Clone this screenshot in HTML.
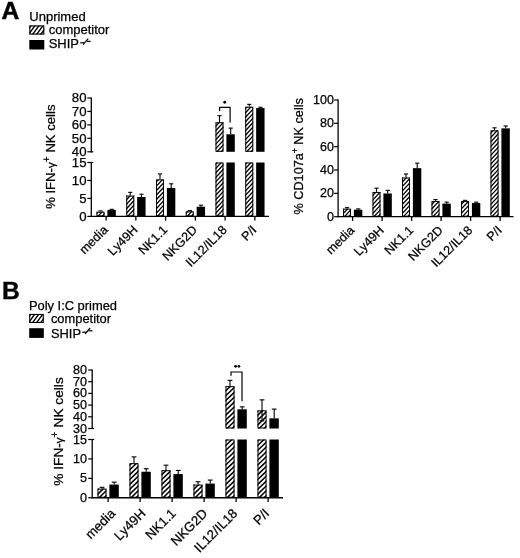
<!DOCTYPE html>
<html><head><meta charset="utf-8"><title>Figure</title>
<style>
html,body{margin:0;padding:0;background:#fff;}
body{width:520px;height:558px;overflow:hidden;}
svg{display:block;font-family:"Liberation Sans", sans-serif;fill:#000;}
text{stroke:#000;stroke-width:0.25px;font-kerning:none;}
</style></head><body>
<svg width="520" height="558" viewBox="0 0 520 558">
<defs>
<filter id="soft" x="0" y="0" width="100%" height="100%" filterUnits="userSpaceOnUse"><feGaussianBlur stdDeviation="0.45"/></filter>
</defs>
<g filter="url(#soft)"><rect x="-5" y="-5" width="530" height="568" fill="#fff"/>
<text x="0" y="0" font-size="23.4" font-weight="bold" style="stroke-width:0.5px" transform="translate(1.55 19.15) scale(1.055 1)">A</text>
<text x="29.3" y="20.6" font-size="13.0" text-anchor="start" font-weight="normal">Unprimed</text>
<clipPath id="c1"><rect x="29.3" y="25.4" width="15" height="9.2"/></clipPath>
<rect x="29.3" y="25.4" width="15" height="9.2" fill="#fff"/>
<path d="M28.3 12.62L45.3 -10.78M28.3 18.16L45.3 -5.24M28.3 23.71L45.3 0.31M28.3 29.25L45.3 5.86M28.3 34.8L45.3 11.4M28.3 40.35L45.3 16.95M28.3 45.89L45.3 22.49M28.3 51.44L45.3 28.04M28.3 56.99L45.3 33.59M28.3 62.53L45.3 39.13M28.3 68.08L45.3 44.68M28.3 73.62L45.3 50.23" stroke="#000" stroke-width="1.4" fill="none" clip-path="url(#c1)"/>
<rect x="29.85" y="25.95" width="13.9" height="8.1" fill="none" stroke="#000" stroke-width="1.1"/>
<rect x="29.3" y="40" width="15" height="9.5" fill="#000"/>
<text x="48.7" y="33.9" font-size="13.0" text-anchor="start" font-weight="normal">competitor</text>
<text x="48.7" y="48.2" font-size="13.0" text-anchor="start" font-weight="normal">SHIP</text>
<line x1="80.23" y1="42.8" x2="84.03" y2="42.8" stroke="#000" stroke-width="1.2"/>
<line x1="83.03" y1="44.6" x2="88.23" y2="38.6" stroke="#000" stroke-width="1.2"/>
<line x1="86.83" y1="41.4" x2="90.63" y2="41.4" stroke="#000" stroke-width="1.2"/>
<line x1="91.3" y1="97.4" x2="91.3" y2="152.4" stroke="#000" stroke-width="1.3"/>
<line x1="91.3" y1="161.9" x2="91.3" y2="217" stroke="#000" stroke-width="1.3"/>
<line x1="87.3" y1="98" x2="91.3" y2="98" stroke="#000" stroke-width="1.2"/>
<text x="86.5" y="102.28" font-size="13.2" text-anchor="end" font-weight="normal">80</text>
<line x1="87.3" y1="111.45" x2="91.3" y2="111.45" stroke="#000" stroke-width="1.2"/>
<text x="86.5" y="115.73" font-size="13.2" text-anchor="end" font-weight="normal">70</text>
<line x1="87.3" y1="124.9" x2="91.3" y2="124.9" stroke="#000" stroke-width="1.2"/>
<text x="86.5" y="129.18" font-size="13.2" text-anchor="end" font-weight="normal">60</text>
<line x1="87.3" y1="138.35" x2="91.3" y2="138.35" stroke="#000" stroke-width="1.2"/>
<text x="86.5" y="142.63" font-size="13.2" text-anchor="end" font-weight="normal">50</text>
<line x1="87.3" y1="151.8" x2="93.3" y2="151.8" stroke="#000" stroke-width="1.2"/>
<text x="86.5" y="156.08" font-size="13.2" text-anchor="end" font-weight="normal">40</text>
<line x1="87.3" y1="162.5" x2="93.3" y2="162.5" stroke="#000" stroke-width="1.2"/>
<text x="86.5" y="166.78" font-size="13.2" text-anchor="end" font-weight="normal">15</text>
<line x1="87.3" y1="180.47" x2="91.3" y2="180.47" stroke="#000" stroke-width="1.2"/>
<text x="86.5" y="184.74" font-size="13.2" text-anchor="end" font-weight="normal">10</text>
<line x1="87.3" y1="198.43" x2="91.3" y2="198.43" stroke="#000" stroke-width="1.2"/>
<text x="86.5" y="202.71" font-size="13.2" text-anchor="end" font-weight="normal">5</text>
<line x1="87.3" y1="216.4" x2="91.3" y2="216.4" stroke="#000" stroke-width="1.2"/>
<text x="86.5" y="220.68" font-size="13.2" text-anchor="end" font-weight="normal">0</text>
<text x="55" y="156.7" font-size="13.1" text-anchor="middle" transform="rotate(-90 55 156.7)">% IFN-<tspan font-size="11.5">&#947;</tspan><tspan font-size="10" dy="-5" dx="0">+</tspan><tspan dy="5" dx="0.3"> NK cells</tspan></text>
<line x1="100.5" y1="211.73" x2="100.5" y2="210.93" stroke="#000" stroke-width="1.1"/>
<line x1="98.4" y1="210.93" x2="102.6" y2="210.93" stroke="#000" stroke-width="1.1"/>
<line x1="111.7" y1="209.93" x2="111.7" y2="209.33" stroke="#000" stroke-width="1.1"/>
<line x1="109.6" y1="209.33" x2="113.8" y2="209.33" stroke="#000" stroke-width="1.1"/>
<clipPath id="c2"><rect x="96.5" y="211.73" width="8" height="4.67"/></clipPath>
<rect x="96.5" y="211.73" width="8" height="4.67" fill="#fff"/>
<path d="M95.5 201.08L105.5 190.36M95.5 205.56L105.5 194.83M95.5 210.03L105.5 199.3M95.5 214.5L105.5 203.78M95.5 218.97L105.5 208.25M95.5 223.44L105.5 212.72M95.5 227.92L105.5 217.19M95.5 232.39L105.5 221.67M95.5 236.86L105.5 226.14" stroke="#000" stroke-width="1.3" fill="none" clip-path="url(#c2)"/>
<rect x="97" y="212.23" width="7" height="3.67" fill="none" stroke="#000" stroke-width="1.0"/>
<rect x="107.4" y="209.93" width="8.4" height="6.47" fill="#000"/>
<line x1="130.25" y1="195.56" x2="130.25" y2="192.36" stroke="#000" stroke-width="1.1"/>
<line x1="128.15" y1="192.36" x2="132.35" y2="192.36" stroke="#000" stroke-width="1.1"/>
<line x1="141.45" y1="197" x2="141.45" y2="194.2" stroke="#000" stroke-width="1.1"/>
<line x1="139.35" y1="194.2" x2="143.55" y2="194.2" stroke="#000" stroke-width="1.1"/>
<clipPath id="c3"><rect x="126.25" y="195.56" width="8" height="20.84"/></clipPath>
<rect x="126.25" y="195.56" width="8" height="20.84" fill="#fff"/>
<path d="M125.25 187.67L135.25 176.94M125.25 192.14L135.25 181.42M125.25 196.61L135.25 185.89M125.25 201.08L135.25 190.36M125.25 205.56L135.25 194.83M125.25 210.03L135.25 199.3M125.25 214.5L135.25 203.78M125.25 218.97L135.25 208.25M125.25 223.44L135.25 212.72M125.25 227.92L135.25 217.19M125.25 232.39L135.25 221.67M125.25 236.86L135.25 226.14" stroke="#000" stroke-width="1.3" fill="none" clip-path="url(#c3)"/>
<rect x="126.75" y="196.06" width="7" height="19.84" fill="none" stroke="#000" stroke-width="1.0"/>
<rect x="137.15" y="197" width="8.4" height="19.4" fill="#000"/>
<line x1="160" y1="179.39" x2="160" y2="173.89" stroke="#000" stroke-width="1.1"/>
<line x1="157.9" y1="173.89" x2="162.1" y2="173.89" stroke="#000" stroke-width="1.1"/>
<line x1="171.2" y1="188.01" x2="171.2" y2="183.81" stroke="#000" stroke-width="1.1"/>
<line x1="169.1" y1="183.81" x2="173.3" y2="183.81" stroke="#000" stroke-width="1.1"/>
<clipPath id="c4"><rect x="156" y="179.39" width="8" height="37.01"/></clipPath>
<rect x="156" y="179.39" width="8" height="37.01" fill="#fff"/>
<path d="M155 169.78L165 159.06M155 174.25L165 163.53M155 178.72L165 168M155 183.2L165 172.47M155 187.67L165 176.94M155 192.14L165 181.42M155 196.61L165 185.89M155 201.08L165 190.36M155 205.56L165 194.83M155 210.03L165 199.3M155 214.5L165 203.78M155 218.97L165 208.25M155 223.44L165 212.72M155 227.92L165 217.19M155 232.39L165 221.67M155 236.86L165 226.14" stroke="#000" stroke-width="1.3" fill="none" clip-path="url(#c4)"/>
<rect x="156.5" y="179.89" width="7" height="36.01" fill="none" stroke="#000" stroke-width="1.0"/>
<rect x="166.9" y="188.01" width="8.4" height="28.39" fill="#000"/>
<line x1="189.75" y1="211.37" x2="189.75" y2="210.57" stroke="#000" stroke-width="1.1"/>
<line x1="187.65" y1="210.57" x2="191.85" y2="210.57" stroke="#000" stroke-width="1.1"/>
<line x1="200.95" y1="206.7" x2="200.95" y2="205.2" stroke="#000" stroke-width="1.1"/>
<line x1="198.85" y1="205.2" x2="203.05" y2="205.2" stroke="#000" stroke-width="1.1"/>
<clipPath id="c5"><rect x="185.75" y="211.37" width="8" height="5.03"/></clipPath>
<rect x="185.75" y="211.37" width="8" height="5.03" fill="#fff"/>
<path d="M184.75 201.08L194.75 190.36M184.75 205.56L194.75 194.83M184.75 210.03L194.75 199.3M184.75 214.5L194.75 203.78M184.75 218.97L194.75 208.25M184.75 223.44L194.75 212.72M184.75 227.92L194.75 217.19M184.75 232.39L194.75 221.67M184.75 236.86L194.75 226.14" stroke="#000" stroke-width="1.3" fill="none" clip-path="url(#c5)"/>
<rect x="186.25" y="211.87" width="7" height="4.03" fill="none" stroke="#000" stroke-width="1.0"/>
<rect x="196.65" y="206.7" width="8.4" height="9.7" fill="#000"/>
<line x1="219.5" y1="122.21" x2="219.5" y2="115.71" stroke="#000" stroke-width="1.1"/>
<line x1="217.4" y1="115.71" x2="221.6" y2="115.71" stroke="#000" stroke-width="1.1"/>
<line x1="230.7" y1="134.31" x2="230.7" y2="128.12" stroke="#000" stroke-width="1.1"/>
<line x1="228.6" y1="128.12" x2="232.8" y2="128.12" stroke="#000" stroke-width="1.1"/>
<clipPath id="c6"><rect x="215.5" y="122.21" width="8" height="29.59"/></clipPath>
<rect x="215.5" y="122.21" width="8" height="29.59" fill="#fff"/>
<path d="M214.5 114.12L224.5 103.4M214.5 118.6L224.5 107.87M214.5 123.07L224.5 112.34M214.5 127.54L224.5 116.82M214.5 132.01L224.5 121.29M214.5 136.48L224.5 125.76M214.5 140.96L224.5 130.23M214.5 145.43L224.5 134.7M214.5 149.9L224.5 139.18M214.5 154.37L224.5 143.65M214.5 158.84L224.5 148.12M214.5 163.32L224.5 152.59M214.5 167.79L224.5 157.07M214.5 172.26L224.5 161.54" stroke="#000" stroke-width="1.3" fill="none" clip-path="url(#c6)"/>
<rect x="216" y="122.71" width="7" height="28.59" fill="none" stroke="#000" stroke-width="1.0"/>
<rect x="226.4" y="134.31" width="8.4" height="17.49" fill="#000"/>
<clipPath id="c7"><rect x="215.5" y="162.5" width="8" height="53.9"/></clipPath>
<rect x="215.5" y="162.5" width="8" height="53.9" fill="#fff"/>
<path d="M214.5 151.89L224.5 141.17M214.5 156.36L224.5 145.64M214.5 160.83L224.5 150.11M214.5 165.31L224.5 154.58M214.5 169.78L224.5 159.06M214.5 174.25L224.5 163.53M214.5 178.72L224.5 168M214.5 183.2L224.5 172.47M214.5 187.67L224.5 176.94M214.5 192.14L224.5 181.42M214.5 196.61L224.5 185.89M214.5 201.08L224.5 190.36M214.5 205.56L224.5 194.83M214.5 210.03L224.5 199.3M214.5 214.5L224.5 203.78M214.5 218.97L224.5 208.25M214.5 223.44L224.5 212.72M214.5 227.92L224.5 217.19M214.5 232.39L224.5 221.67M214.5 236.86L224.5 226.14" stroke="#000" stroke-width="1.3" fill="none" clip-path="url(#c7)"/>
<rect x="216" y="163" width="7" height="52.9" fill="none" stroke="#000" stroke-width="1.0"/>
<rect x="226.4" y="162.5" width="8.4" height="53.9" fill="#000"/>
<line x1="249.25" y1="106.74" x2="249.25" y2="104.34" stroke="#000" stroke-width="1.1"/>
<line x1="247.15" y1="104.34" x2="251.35" y2="104.34" stroke="#000" stroke-width="1.1"/>
<line x1="260.45" y1="108.09" x2="260.45" y2="107.29" stroke="#000" stroke-width="1.1"/>
<line x1="258.35" y1="107.29" x2="262.55" y2="107.29" stroke="#000" stroke-width="1.1"/>
<clipPath id="c8"><rect x="245.25" y="106.74" width="8" height="45.06"/></clipPath>
<rect x="245.25" y="106.74" width="8" height="45.06" fill="#fff"/>
<path d="M244.25 96.23L254.25 85.51M244.25 100.71L254.25 89.98M244.25 105.18L254.25 94.46M244.25 109.65L254.25 98.93M244.25 114.12L254.25 103.4M244.25 118.6L254.25 107.87M244.25 123.07L254.25 112.34M244.25 127.54L254.25 116.82M244.25 132.01L254.25 121.29M244.25 136.48L254.25 125.76M244.25 140.96L254.25 130.23M244.25 145.43L254.25 134.7M244.25 149.9L254.25 139.18M244.25 154.37L254.25 143.65M244.25 158.84L254.25 148.12M244.25 163.32L254.25 152.59M244.25 167.79L254.25 157.07M244.25 172.26L254.25 161.54" stroke="#000" stroke-width="1.3" fill="none" clip-path="url(#c8)"/>
<rect x="245.75" y="107.24" width="7" height="44.06" fill="none" stroke="#000" stroke-width="1.0"/>
<rect x="256.15" y="108.09" width="8.4" height="43.71" fill="#000"/>
<clipPath id="c9"><rect x="245.25" y="162.5" width="8" height="53.9"/></clipPath>
<rect x="245.25" y="162.5" width="8" height="53.9" fill="#fff"/>
<path d="M244.25 151.89L254.25 141.17M244.25 156.36L254.25 145.64M244.25 160.83L254.25 150.11M244.25 165.31L254.25 154.58M244.25 169.78L254.25 159.06M244.25 174.25L254.25 163.53M244.25 178.72L254.25 168M244.25 183.2L254.25 172.47M244.25 187.67L254.25 176.94M244.25 192.14L254.25 181.42M244.25 196.61L254.25 185.89M244.25 201.08L254.25 190.36M244.25 205.56L254.25 194.83M244.25 210.03L254.25 199.3M244.25 214.5L254.25 203.78M244.25 218.97L254.25 208.25M244.25 223.44L254.25 212.72M244.25 227.92L254.25 217.19M244.25 232.39L254.25 221.67M244.25 236.86L254.25 226.14" stroke="#000" stroke-width="1.3" fill="none" clip-path="url(#c9)"/>
<rect x="245.75" y="163" width="7" height="52.9" fill="none" stroke="#000" stroke-width="1.0"/>
<rect x="256.15" y="162.5" width="8.4" height="53.9" fill="#000"/>
<line x1="90.7" y1="216.4" x2="269" y2="216.4" stroke="#000" stroke-width="1.3"/>
<line x1="106.1" y1="216.4" x2="106.1" y2="220.6" stroke="#000" stroke-width="1.3"/>
<text x="108.6" y="230.7" font-size="12.5" text-anchor="end" font-weight="normal" transform="rotate(-45 108.6 230.7)">media</text>
<line x1="135.85" y1="216.4" x2="135.85" y2="220.6" stroke="#000" stroke-width="1.3"/>
<text x="138.35" y="230.7" font-size="12.5" text-anchor="end" font-weight="normal" transform="rotate(-45 138.35 230.7)">Ly49H</text>
<line x1="165.6" y1="216.4" x2="165.6" y2="220.6" stroke="#000" stroke-width="1.3"/>
<text x="168.1" y="230.7" font-size="12.5" text-anchor="end" font-weight="normal" transform="rotate(-45 168.1 230.7)">NK1.1</text>
<line x1="195.35" y1="216.4" x2="195.35" y2="220.6" stroke="#000" stroke-width="1.3"/>
<text x="197.85" y="230.7" font-size="12.5" text-anchor="end" font-weight="normal" transform="rotate(-45 197.85 230.7)">NKG2D</text>
<line x1="225.1" y1="216.4" x2="225.1" y2="220.6" stroke="#000" stroke-width="1.3"/>
<text x="227.6" y="230.7" font-size="12.5" text-anchor="end" font-weight="normal" transform="rotate(-45 227.6 230.7)">IL12/IL18</text>
<line x1="254.85" y1="216.4" x2="254.85" y2="220.6" stroke="#000" stroke-width="1.3"/>
<text x="257.35" y="230.7" font-size="12.5" text-anchor="end" font-weight="normal" transform="rotate(-45 257.35 230.7)">P/I</text>
<polyline points="219.6,111.0 219.6,107.3 230.1,107.3 230.1,122.4" fill="none" stroke="#000" stroke-width="1.2"/>
<circle cx="224.75" cy="102.3" r="1.45" fill="#000"/>
<line x1="338.1" y1="99.4" x2="338.1" y2="217.3" stroke="#000" stroke-width="1.3"/>
<line x1="334.1" y1="100" x2="338.1" y2="100" stroke="#000" stroke-width="1.2"/>
<text x="333.9" y="104.02" font-size="12.5" text-anchor="end" font-weight="normal">100</text>
<line x1="334.1" y1="123.34" x2="338.1" y2="123.34" stroke="#000" stroke-width="1.2"/>
<text x="333.9" y="127.36" font-size="12.5" text-anchor="end" font-weight="normal">80</text>
<line x1="334.1" y1="146.68" x2="338.1" y2="146.68" stroke="#000" stroke-width="1.2"/>
<text x="333.9" y="150.71" font-size="12.5" text-anchor="end" font-weight="normal">60</text>
<line x1="334.1" y1="170.02" x2="338.1" y2="170.02" stroke="#000" stroke-width="1.2"/>
<text x="333.9" y="174.04" font-size="12.5" text-anchor="end" font-weight="normal">40</text>
<line x1="334.1" y1="193.36" x2="338.1" y2="193.36" stroke="#000" stroke-width="1.2"/>
<text x="333.9" y="197.38" font-size="12.5" text-anchor="end" font-weight="normal">20</text>
<line x1="334.1" y1="216.7" x2="338.1" y2="216.7" stroke="#000" stroke-width="1.2"/>
<text x="333.9" y="220.72" font-size="12.5" text-anchor="end" font-weight="normal">0</text>
<text x="302.8" y="156.3" font-size="12.7" text-anchor="middle" transform="rotate(-90 302.8 156.3)">% CD107a<tspan font-size="9" dy="-4.5" dx="0">+</tspan><tspan dy="4.5" dx="-0.3"> NK cells</tspan></text>
<line x1="347" y1="208.65" x2="347" y2="207.65" stroke="#000" stroke-width="1.1"/>
<line x1="344.9" y1="207.65" x2="349.1" y2="207.65" stroke="#000" stroke-width="1.1"/>
<line x1="358.2" y1="209.7" x2="358.2" y2="208.9" stroke="#000" stroke-width="1.1"/>
<line x1="356.1" y1="208.9" x2="360.3" y2="208.9" stroke="#000" stroke-width="1.1"/>
<clipPath id="c10"><rect x="343" y="208.65" width="8" height="8.05"/></clipPath>
<rect x="343" y="208.65" width="8" height="8.05" fill="#fff"/>
<path d="M342 196.91L352 186.19M342 201.38L352 190.66M342 205.86L352 195.13M342 210.33L352 199.6M342 214.8L352 204.08M342 219.27L352 208.55M342 223.74L352 213.02M342 228.22L352 217.49M342 232.69L352 221.97M342 237.16L352 226.44" stroke="#000" stroke-width="1.3" fill="none" clip-path="url(#c10)"/>
<rect x="343.5" y="209.15" width="7" height="7.05" fill="none" stroke="#000" stroke-width="1.0"/>
<rect x="353.9" y="209.7" width="8.4" height="7" fill="#000"/>
<line x1="376.5" y1="191.96" x2="376.5" y2="188.16" stroke="#000" stroke-width="1.1"/>
<line x1="374.4" y1="188.16" x2="378.6" y2="188.16" stroke="#000" stroke-width="1.1"/>
<line x1="387.7" y1="193.48" x2="387.7" y2="190.38" stroke="#000" stroke-width="1.1"/>
<line x1="385.6" y1="190.38" x2="389.8" y2="190.38" stroke="#000" stroke-width="1.1"/>
<clipPath id="c11"><rect x="372.5" y="191.96" width="8" height="24.74"/></clipPath>
<rect x="372.5" y="191.96" width="8" height="24.74" fill="#fff"/>
<path d="M371.5 183.5L381.5 172.77M371.5 187.97L381.5 177.24M371.5 192.44L381.5 181.72M371.5 196.91L381.5 186.19M371.5 201.38L381.5 190.66M371.5 205.86L381.5 195.13M371.5 210.33L381.5 199.6M371.5 214.8L381.5 204.08M371.5 219.27L381.5 208.55M371.5 223.74L381.5 213.02M371.5 228.22L381.5 217.49M371.5 232.69L381.5 221.97M371.5 237.16L381.5 226.44" stroke="#000" stroke-width="1.3" fill="none" clip-path="url(#c11)"/>
<rect x="373" y="192.46" width="7" height="23.74" fill="none" stroke="#000" stroke-width="1.0"/>
<rect x="383.4" y="193.48" width="8.4" height="23.22" fill="#000"/>
<line x1="406" y1="177.49" x2="406" y2="173.99" stroke="#000" stroke-width="1.1"/>
<line x1="403.9" y1="173.99" x2="408.1" y2="173.99" stroke="#000" stroke-width="1.1"/>
<line x1="417.2" y1="168.15" x2="417.2" y2="163.15" stroke="#000" stroke-width="1.1"/>
<line x1="415.1" y1="163.15" x2="419.3" y2="163.15" stroke="#000" stroke-width="1.1"/>
<clipPath id="c12"><rect x="402" y="177.49" width="8" height="39.21"/></clipPath>
<rect x="402" y="177.49" width="8" height="39.21" fill="#fff"/>
<path d="M401 165.61L411 154.88M401 170.08L411 159.36M401 174.55L411 163.83M401 179.02L411 168.3M401 183.5L411 172.77M401 187.97L411 177.24M401 192.44L411 181.72M401 196.91L411 186.19M401 201.38L411 190.66M401 205.86L411 195.13M401 210.33L411 199.6M401 214.8L411 204.08M401 219.27L411 208.55M401 223.74L411 213.02M401 228.22L411 217.49M401 232.69L411 221.97M401 237.16L411 226.44" stroke="#000" stroke-width="1.3" fill="none" clip-path="url(#c12)"/>
<rect x="402.5" y="177.99" width="7" height="38.21" fill="none" stroke="#000" stroke-width="1.0"/>
<rect x="412.9" y="168.15" width="8.4" height="48.55" fill="#000"/>
<line x1="435.5" y1="200.95" x2="435.5" y2="199.55" stroke="#000" stroke-width="1.1"/>
<line x1="433.4" y1="199.55" x2="437.6" y2="199.55" stroke="#000" stroke-width="1.1"/>
<line x1="446.7" y1="203.63" x2="446.7" y2="202.13" stroke="#000" stroke-width="1.1"/>
<line x1="444.6" y1="202.13" x2="448.8" y2="202.13" stroke="#000" stroke-width="1.1"/>
<clipPath id="c13"><rect x="431.5" y="200.95" width="8" height="15.75"/></clipPath>
<rect x="431.5" y="200.95" width="8" height="15.75" fill="#fff"/>
<path d="M430.5 192.44L440.5 181.72M430.5 196.91L440.5 186.19M430.5 201.38L440.5 190.66M430.5 205.86L440.5 195.13M430.5 210.33L440.5 199.6M430.5 214.8L440.5 204.08M430.5 219.27L440.5 208.55M430.5 223.74L440.5 213.02M430.5 228.22L440.5 217.49M430.5 232.69L440.5 221.97M430.5 237.16L440.5 226.44" stroke="#000" stroke-width="1.3" fill="none" clip-path="url(#c13)"/>
<rect x="432" y="201.45" width="7" height="14.75" fill="none" stroke="#000" stroke-width="1.0"/>
<rect x="442.4" y="203.63" width="8.4" height="13.07" fill="#000"/>
<line x1="465" y1="200.95" x2="465" y2="200.35" stroke="#000" stroke-width="1.1"/>
<line x1="462.9" y1="200.35" x2="467.1" y2="200.35" stroke="#000" stroke-width="1.1"/>
<line x1="476.2" y1="203.05" x2="476.2" y2="202.15" stroke="#000" stroke-width="1.1"/>
<line x1="474.1" y1="202.15" x2="478.3" y2="202.15" stroke="#000" stroke-width="1.1"/>
<clipPath id="c14"><rect x="461" y="200.95" width="8" height="15.75"/></clipPath>
<rect x="461" y="200.95" width="8" height="15.75" fill="#fff"/>
<path d="M460 192.44L470 181.72M460 196.91L470 186.19M460 201.38L470 190.66M460 205.86L470 195.13M460 210.33L470 199.6M460 214.8L470 204.08M460 219.27L470 208.55M460 223.74L470 213.02M460 228.22L470 217.49M460 232.69L470 221.97M460 237.16L470 226.44" stroke="#000" stroke-width="1.3" fill="none" clip-path="url(#c14)"/>
<rect x="461.5" y="201.45" width="7" height="14.75" fill="none" stroke="#000" stroke-width="1.0"/>
<rect x="471.9" y="203.05" width="8.4" height="13.65" fill="#000"/>
<line x1="494.5" y1="130.34" x2="494.5" y2="127.84" stroke="#000" stroke-width="1.1"/>
<line x1="492.4" y1="127.84" x2="496.6" y2="127.84" stroke="#000" stroke-width="1.1"/>
<line x1="505.7" y1="128.36" x2="505.7" y2="125.96" stroke="#000" stroke-width="1.1"/>
<line x1="503.6" y1="125.96" x2="507.8" y2="125.96" stroke="#000" stroke-width="1.1"/>
<clipPath id="c15"><rect x="490.5" y="130.34" width="8" height="86.36"/></clipPath>
<rect x="490.5" y="130.34" width="8" height="86.36" fill="#fff"/>
<path d="M489.5 120.89L499.5 110.16M489.5 125.36L499.5 114.63M489.5 129.83L499.5 119.11M489.5 134.3L499.5 123.58M489.5 138.77L499.5 128.05M489.5 143.25L499.5 132.52M489.5 147.72L499.5 136.99M489.5 152.19L499.5 141.47M489.5 156.66L499.5 145.94M489.5 161.13L499.5 150.41M489.5 165.61L499.5 154.88M489.5 170.08L499.5 159.36M489.5 174.55L499.5 163.83M489.5 179.02L499.5 168.3M489.5 183.5L499.5 172.77M489.5 187.97L499.5 177.24M489.5 192.44L499.5 181.72M489.5 196.91L499.5 186.19M489.5 201.38L499.5 190.66M489.5 205.86L499.5 195.13M489.5 210.33L499.5 199.6M489.5 214.8L499.5 204.08M489.5 219.27L499.5 208.55M489.5 223.74L499.5 213.02M489.5 228.22L499.5 217.49M489.5 232.69L499.5 221.97M489.5 237.16L499.5 226.44" stroke="#000" stroke-width="1.3" fill="none" clip-path="url(#c15)"/>
<rect x="491" y="130.84" width="7" height="85.36" fill="none" stroke="#000" stroke-width="1.0"/>
<rect x="501.4" y="128.36" width="8.4" height="88.34" fill="#000"/>
<line x1="337.5" y1="216.7" x2="513.5" y2="216.7" stroke="#000" stroke-width="1.3"/>
<line x1="352.6" y1="216.7" x2="352.6" y2="220.9" stroke="#000" stroke-width="1.3"/>
<text x="355.1" y="231" font-size="12.5" text-anchor="end" font-weight="normal" transform="rotate(-45 355.1 231)">media</text>
<line x1="382.1" y1="216.7" x2="382.1" y2="220.9" stroke="#000" stroke-width="1.3"/>
<text x="384.6" y="231" font-size="12.5" text-anchor="end" font-weight="normal" transform="rotate(-45 384.6 231)">Ly49H</text>
<line x1="411.6" y1="216.7" x2="411.6" y2="220.9" stroke="#000" stroke-width="1.3"/>
<text x="414.1" y="231" font-size="12.5" text-anchor="end" font-weight="normal" transform="rotate(-45 414.1 231)">NK1.1</text>
<line x1="441.1" y1="216.7" x2="441.1" y2="220.9" stroke="#000" stroke-width="1.3"/>
<text x="443.6" y="231" font-size="12.5" text-anchor="end" font-weight="normal" transform="rotate(-45 443.6 231)">NKG2D</text>
<line x1="470.6" y1="216.7" x2="470.6" y2="220.9" stroke="#000" stroke-width="1.3"/>
<text x="473.1" y="231" font-size="12.5" text-anchor="end" font-weight="normal" transform="rotate(-45 473.1 231)">IL12/IL18</text>
<line x1="500.1" y1="216.7" x2="500.1" y2="220.9" stroke="#000" stroke-width="1.3"/>
<text x="502.6" y="231" font-size="12.5" text-anchor="end" font-weight="normal" transform="rotate(-45 502.6 231)">P/I</text>
<text x="0" y="0" font-size="24.6" font-weight="bold" style="stroke-width:0.4px" transform="translate(2.0 299.35) scale(1.0 1)">B</text>
<text x="28.9" y="309.5" font-size="12.9" text-anchor="start" font-weight="normal">Poly I:C primed</text>
<clipPath id="c16"><rect x="29.2" y="313.9" width="14.6" height="9.1"/></clipPath>
<rect x="29.2" y="313.9" width="14.6" height="9.1" fill="#fff"/>
<path d="M28.2 301.02L44.8 278.17M28.2 306.56L44.8 283.71M28.2 312.11L44.8 289.26M28.2 317.65L44.8 294.81M28.2 323.2L44.8 300.35M28.2 328.75L44.8 305.9M28.2 334.29L44.8 311.44M28.2 339.84L44.8 316.99M28.2 345.39L44.8 322.54M28.2 350.93L44.8 328.08M28.2 356.48L44.8 333.63M28.2 362.02L44.8 339.18" stroke="#000" stroke-width="1.4" fill="none" clip-path="url(#c16)"/>
<rect x="29.75" y="314.45" width="13.5" height="8" fill="none" stroke="#000" stroke-width="1.1"/>
<rect x="29.2" y="328.2" width="14.6" height="9.7" fill="#000"/>
<text x="50.9" y="322.8" font-size="12.9" text-anchor="start" font-weight="normal">competitor</text>
<text x="50.9" y="337.6" font-size="12.9" text-anchor="start" font-weight="normal">SHIP</text>
<line x1="82.2" y1="332.2" x2="86" y2="332.2" stroke="#000" stroke-width="1.2"/>
<line x1="85" y1="334" x2="90.2" y2="328" stroke="#000" stroke-width="1.2"/>
<line x1="88.8" y1="330.8" x2="92.6" y2="330.8" stroke="#000" stroke-width="1.2"/>
<line x1="92.2" y1="369.4" x2="92.2" y2="429.1" stroke="#000" stroke-width="1.3"/>
<line x1="92.2" y1="438.9" x2="92.2" y2="498.35" stroke="#000" stroke-width="1.3"/>
<line x1="88.2" y1="370" x2="92.2" y2="370" stroke="#000" stroke-width="1.2"/>
<text x="86.9" y="374.06" font-size="12.6" text-anchor="end" font-weight="normal">80</text>
<line x1="88.2" y1="381.7" x2="92.2" y2="381.7" stroke="#000" stroke-width="1.2"/>
<text x="86.9" y="385.76" font-size="12.6" text-anchor="end" font-weight="normal">70</text>
<line x1="88.2" y1="393.4" x2="92.2" y2="393.4" stroke="#000" stroke-width="1.2"/>
<text x="86.9" y="397.46" font-size="12.6" text-anchor="end" font-weight="normal">60</text>
<line x1="88.2" y1="405.1" x2="92.2" y2="405.1" stroke="#000" stroke-width="1.2"/>
<text x="86.9" y="409.16" font-size="12.6" text-anchor="end" font-weight="normal">50</text>
<line x1="88.2" y1="416.8" x2="92.2" y2="416.8" stroke="#000" stroke-width="1.2"/>
<text x="86.9" y="420.86" font-size="12.6" text-anchor="end" font-weight="normal">40</text>
<line x1="88.2" y1="428.5" x2="94.2" y2="428.5" stroke="#000" stroke-width="1.2"/>
<text x="86.9" y="432.56" font-size="12.6" text-anchor="end" font-weight="normal">30</text>
<line x1="88.2" y1="439.5" x2="94.2" y2="439.5" stroke="#000" stroke-width="1.2"/>
<text x="86.9" y="443.56" font-size="12.6" text-anchor="end" font-weight="normal">15</text>
<line x1="88.2" y1="458.92" x2="92.2" y2="458.92" stroke="#000" stroke-width="1.2"/>
<text x="86.9" y="462.98" font-size="12.6" text-anchor="end" font-weight="normal">10</text>
<line x1="88.2" y1="478.33" x2="92.2" y2="478.33" stroke="#000" stroke-width="1.2"/>
<text x="86.9" y="482.39" font-size="12.6" text-anchor="end" font-weight="normal">5</text>
<line x1="88.2" y1="497.75" x2="92.2" y2="497.75" stroke="#000" stroke-width="1.2"/>
<text x="86.9" y="501.81" font-size="12.6" text-anchor="end" font-weight="normal">0</text>
<text x="62.8" y="431.5" font-size="13.7" text-anchor="middle" transform="rotate(-90 62.8 431.5)">% IFN-<tspan font-size="11.5">&#947;</tspan><tspan font-size="10" dy="-5" dx="0">+</tspan><tspan dy="5" dx="0.3"> NK cells</tspan></text>
<line x1="102" y1="488.62" x2="102" y2="487.32" stroke="#000" stroke-width="1.1"/>
<line x1="99.6" y1="487.32" x2="104.4" y2="487.32" stroke="#000" stroke-width="1.1"/>
<line x1="114.2" y1="484.55" x2="114.2" y2="482.15" stroke="#000" stroke-width="1.1"/>
<line x1="111.8" y1="482.15" x2="116.6" y2="482.15" stroke="#000" stroke-width="1.1"/>
<clipPath id="c17"><rect x="97.5" y="488.62" width="9" height="9.13"/></clipPath>
<rect x="97.5" y="488.62" width="9" height="9.13" fill="#fff"/>
<path d="M96.5 475.89L107.5 465.27M96.5 480.75L107.5 470.13M96.5 485.62L107.5 475M96.5 490.48L107.5 479.86M96.5 495.35L107.5 484.73M96.5 500.22L107.5 489.59M96.5 505.08L107.5 494.46M96.5 509.95L107.5 499.32M96.5 514.81L107.5 504.19M96.5 519.68L107.5 509.06" stroke="#000" stroke-width="1.5" fill="none" clip-path="url(#c17)"/>
<rect x="98" y="489.12" width="8" height="8.13" fill="none" stroke="#000" stroke-width="1.0"/>
<rect x="109.4" y="484.55" width="9.4" height="13.2" fill="#000"/>
<line x1="134" y1="463.19" x2="134" y2="456.89" stroke="#000" stroke-width="1.1"/>
<line x1="131.6" y1="456.89" x2="136.4" y2="456.89" stroke="#000" stroke-width="1.1"/>
<line x1="146.2" y1="471.73" x2="146.2" y2="468.73" stroke="#000" stroke-width="1.1"/>
<line x1="143.8" y1="468.73" x2="148.6" y2="468.73" stroke="#000" stroke-width="1.1"/>
<clipPath id="c18"><rect x="129.5" y="463.19" width="9" height="34.56"/></clipPath>
<rect x="129.5" y="463.19" width="9" height="34.56" fill="#fff"/>
<path d="M128.5 451.56L139.5 440.94M128.5 456.43L139.5 445.8M128.5 461.29L139.5 450.67M128.5 466.16L139.5 455.53M128.5 471.02L139.5 460.4M128.5 475.89L139.5 465.27M128.5 480.75L139.5 470.13M128.5 485.62L139.5 475M128.5 490.48L139.5 479.86M128.5 495.35L139.5 484.73M128.5 500.22L139.5 489.59M128.5 505.08L139.5 494.46M128.5 509.95L139.5 499.32M128.5 514.81L139.5 504.19M128.5 519.68L139.5 509.06" stroke="#000" stroke-width="1.5" fill="none" clip-path="url(#c18)"/>
<rect x="130" y="463.69" width="8" height="33.56" fill="none" stroke="#000" stroke-width="1.0"/>
<rect x="141.4" y="471.73" width="9.4" height="26.02" fill="#000"/>
<line x1="166" y1="470.18" x2="166" y2="465.18" stroke="#000" stroke-width="1.1"/>
<line x1="163.6" y1="465.18" x2="168.4" y2="465.18" stroke="#000" stroke-width="1.1"/>
<line x1="178.2" y1="474.06" x2="178.2" y2="470.46" stroke="#000" stroke-width="1.1"/>
<line x1="175.8" y1="470.46" x2="180.6" y2="470.46" stroke="#000" stroke-width="1.1"/>
<clipPath id="c19"><rect x="161.5" y="470.18" width="9" height="27.57"/></clipPath>
<rect x="161.5" y="470.18" width="9" height="27.57" fill="#fff"/>
<path d="M160.5 461.29L171.5 450.67M160.5 466.16L171.5 455.53M160.5 471.02L171.5 460.4M160.5 475.89L171.5 465.27M160.5 480.75L171.5 470.13M160.5 485.62L171.5 475M160.5 490.48L171.5 479.86M160.5 495.35L171.5 484.73M160.5 500.22L171.5 489.59M160.5 505.08L171.5 494.46M160.5 509.95L171.5 499.32M160.5 514.81L171.5 504.19M160.5 519.68L171.5 509.06" stroke="#000" stroke-width="1.5" fill="none" clip-path="url(#c19)"/>
<rect x="162" y="470.68" width="8" height="26.57" fill="none" stroke="#000" stroke-width="1.0"/>
<rect x="173.4" y="474.06" width="9.4" height="23.69" fill="#000"/>
<line x1="198" y1="484.55" x2="198" y2="481.75" stroke="#000" stroke-width="1.1"/>
<line x1="195.6" y1="481.75" x2="200.4" y2="481.75" stroke="#000" stroke-width="1.1"/>
<line x1="210.2" y1="483.58" x2="210.2" y2="480.08" stroke="#000" stroke-width="1.1"/>
<line x1="207.8" y1="480.08" x2="212.6" y2="480.08" stroke="#000" stroke-width="1.1"/>
<clipPath id="c20"><rect x="193.5" y="484.55" width="9" height="13.2"/></clipPath>
<rect x="193.5" y="484.55" width="9" height="13.2" fill="#fff"/>
<path d="M192.5 471.02L203.5 460.4M192.5 475.89L203.5 465.27M192.5 480.75L203.5 470.13M192.5 485.62L203.5 475M192.5 490.48L203.5 479.86M192.5 495.35L203.5 484.73M192.5 500.22L203.5 489.59M192.5 505.08L203.5 494.46M192.5 509.95L203.5 499.32M192.5 514.81L203.5 504.19M192.5 519.68L203.5 509.06" stroke="#000" stroke-width="1.5" fill="none" clip-path="url(#c20)"/>
<rect x="194" y="485.05" width="8" height="12.2" fill="none" stroke="#000" stroke-width="1.0"/>
<rect x="205.4" y="483.58" width="9.4" height="14.17" fill="#000"/>
<clipPath id="c21"><rect x="225.5" y="386.15" width="9" height="42.35"/></clipPath>
<rect x="225.5" y="386.15" width="9" height="42.35" fill="#fff"/>
<path d="M224.5 372.58L235.5 361.96M224.5 377.44L235.5 366.82M224.5 382.31L235.5 371.69M224.5 387.18L235.5 376.55M224.5 392.04L235.5 381.42M224.5 396.91L235.5 386.28M224.5 401.77L235.5 391.15M224.5 406.64L235.5 396.02M224.5 411.5L235.5 400.88M224.5 416.37L235.5 405.75M224.5 421.23L235.5 410.61M224.5 426.1L235.5 415.48M224.5 430.97L235.5 420.34M224.5 435.83L235.5 425.21M224.5 440.7L235.5 430.07M224.5 445.56L235.5 434.94M224.5 450.43L235.5 439.81" stroke="#000" stroke-width="1.5" fill="none" clip-path="url(#c21)"/>
<rect x="226" y="386.65" width="8" height="41.35" fill="none" stroke="#000" stroke-width="1.0"/>
<rect x="237.4" y="409.31" width="9.4" height="19.19" fill="#000"/>
<clipPath id="c22"><rect x="225.5" y="439.5" width="9" height="58.25"/></clipPath>
<rect x="225.5" y="439.5" width="9" height="58.25" fill="#fff"/>
<path d="M224.5 427.23L235.5 416.61M224.5 432.1L235.5 421.48M224.5 436.96L235.5 426.34M224.5 441.83L235.5 431.21M224.5 446.69L235.5 436.07M224.5 451.56L235.5 440.94M224.5 456.43L235.5 445.8M224.5 461.29L235.5 450.67M224.5 466.16L235.5 455.53M224.5 471.02L235.5 460.4M224.5 475.89L235.5 465.27M224.5 480.75L235.5 470.13M224.5 485.62L235.5 475M224.5 490.48L235.5 479.86M224.5 495.35L235.5 484.73M224.5 500.22L235.5 489.59M224.5 505.08L235.5 494.46M224.5 509.95L235.5 499.32M224.5 514.81L235.5 504.19M224.5 519.68L235.5 509.06" stroke="#000" stroke-width="1.5" fill="none" clip-path="url(#c22)"/>
<rect x="226" y="440" width="8" height="57.25" fill="none" stroke="#000" stroke-width="1.0"/>
<rect x="237.4" y="439.5" width="9.4" height="58.25" fill="#000"/>
<line x1="230" y1="386.15" x2="230" y2="380.35" stroke="#000" stroke-width="1.1"/>
<line x1="227.6" y1="380.35" x2="232.4" y2="380.35" stroke="#000" stroke-width="1.1"/>
<line x1="242.2" y1="409.31" x2="242.2" y2="406.81" stroke="#000" stroke-width="1.1"/>
<line x1="239.8" y1="406.81" x2="244.6" y2="406.81" stroke="#000" stroke-width="1.1"/>
<clipPath id="c23"><rect x="257.5" y="410.37" width="9" height="18.13"/></clipPath>
<rect x="257.5" y="410.37" width="9" height="18.13" fill="#fff"/>
<path d="M256.5 396.91L267.5 386.28M256.5 401.77L267.5 391.15M256.5 406.64L267.5 396.02M256.5 411.5L267.5 400.88M256.5 416.37L267.5 405.75M256.5 421.23L267.5 410.61M256.5 426.1L267.5 415.48M256.5 430.97L267.5 420.34M256.5 435.83L267.5 425.21M256.5 440.7L267.5 430.07M256.5 445.56L267.5 434.94M256.5 450.43L267.5 439.81" stroke="#000" stroke-width="1.5" fill="none" clip-path="url(#c23)"/>
<rect x="258" y="410.87" width="8" height="17.13" fill="none" stroke="#000" stroke-width="1.0"/>
<rect x="269.4" y="418.32" width="9.4" height="10.18" fill="#000"/>
<clipPath id="c24"><rect x="257.5" y="439.5" width="9" height="58.25"/></clipPath>
<rect x="257.5" y="439.5" width="9" height="58.25" fill="#fff"/>
<path d="M256.5 427.23L267.5 416.61M256.5 432.1L267.5 421.48M256.5 436.96L267.5 426.34M256.5 441.83L267.5 431.21M256.5 446.69L267.5 436.07M256.5 451.56L267.5 440.94M256.5 456.43L267.5 445.8M256.5 461.29L267.5 450.67M256.5 466.16L267.5 455.53M256.5 471.02L267.5 460.4M256.5 475.89L267.5 465.27M256.5 480.75L267.5 470.13M256.5 485.62L267.5 475M256.5 490.48L267.5 479.86M256.5 495.35L267.5 484.73M256.5 500.22L267.5 489.59M256.5 505.08L267.5 494.46M256.5 509.95L267.5 499.32M256.5 514.81L267.5 504.19M256.5 519.68L267.5 509.06" stroke="#000" stroke-width="1.5" fill="none" clip-path="url(#c24)"/>
<rect x="258" y="440" width="8" height="57.25" fill="none" stroke="#000" stroke-width="1.0"/>
<rect x="269.4" y="439.5" width="9.4" height="58.25" fill="#000"/>
<line x1="262" y1="410.37" x2="262" y2="399.87" stroke="#000" stroke-width="1.1"/>
<line x1="259.6" y1="399.87" x2="264.4" y2="399.87" stroke="#000" stroke-width="1.1"/>
<line x1="262" y1="410.37" x2="262" y2="420.87" stroke="#000" stroke-width="1.1"/>
<line x1="259.6" y1="420.87" x2="264.4" y2="420.87" stroke="#000" stroke-width="1.1"/>
<line x1="274.2" y1="418.32" x2="274.2" y2="409.12" stroke="#000" stroke-width="1.1"/>
<line x1="271.8" y1="409.12" x2="276.6" y2="409.12" stroke="#000" stroke-width="1.1"/>
<line x1="91.6" y1="497.75" x2="283" y2="497.75" stroke="#000" stroke-width="1.3"/>
<line x1="108.1" y1="497.75" x2="108.1" y2="501.95" stroke="#000" stroke-width="1.3"/>
<text x="116.1" y="514.25" font-size="13.2" text-anchor="end" font-weight="normal" transform="rotate(-45 116.1 514.25)">media</text>
<line x1="140.1" y1="497.75" x2="140.1" y2="501.95" stroke="#000" stroke-width="1.3"/>
<text x="146.4" y="514.25" font-size="13.2" text-anchor="end" font-weight="normal" transform="rotate(-45 146.4 514.25)">Ly49H</text>
<line x1="172.1" y1="497.75" x2="172.1" y2="501.95" stroke="#000" stroke-width="1.3"/>
<text x="176.7" y="514.25" font-size="13.2" text-anchor="end" font-weight="normal" transform="rotate(-45 176.7 514.25)">NK1.1</text>
<line x1="204.1" y1="497.75" x2="204.1" y2="501.95" stroke="#000" stroke-width="1.3"/>
<text x="208.3" y="514.25" font-size="13.2" text-anchor="end" font-weight="normal" transform="rotate(-45 208.3 514.25)">NKG2D</text>
<line x1="236.1" y1="497.75" x2="236.1" y2="501.95" stroke="#000" stroke-width="1.3"/>
<text x="238.3" y="514.25" font-size="13.2" text-anchor="end" font-weight="normal" transform="rotate(-45 238.3 514.25)">IL12/IL18</text>
<line x1="268.1" y1="497.75" x2="268.1" y2="501.95" stroke="#000" stroke-width="1.3"/>
<text x="270.1" y="514.25" font-size="13.2" text-anchor="end" font-weight="normal" transform="rotate(-45 270.1 514.25)">P/I</text>
<polyline points="231,375.8 231,372 242,372 242,401.2" fill="none" stroke="#000" stroke-width="1.2"/>
<circle cx="235.6" cy="366.3" r="1.4" fill="#000"/><circle cx="238.9" cy="366.3" r="1.4" fill="#000"/>
</g>
</svg>
</body></html>
